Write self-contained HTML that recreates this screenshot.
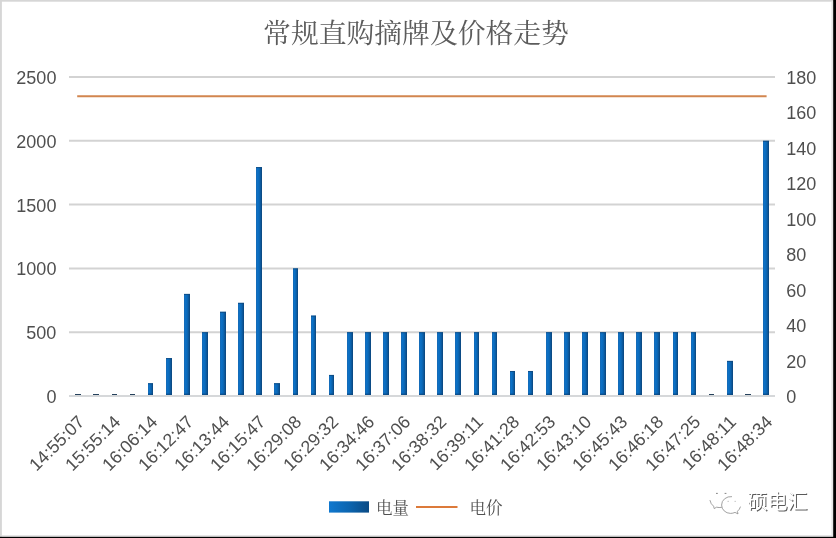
<!DOCTYPE html>
<html lang="zh"><head><meta charset="utf-8"><title>常规直购摘牌及价格走势</title>
<style>html,body{margin:0;padding:0;background:#fff}body{width:836px;height:538px;overflow:hidden;position:relative;font-family:"Liberation Sans",sans-serif}svg{display:block;position:absolute;left:0;top:0}#c{position:absolute;left:0;top:0;width:836px;height:538px;will-change:transform}text{font-family:"Liberation Sans",sans-serif}.xl{position:absolute;white-space:nowrap;line-height:1;transform-origin:100% 100%;transform:rotate(-45deg);font-family:"Liberation Sans",sans-serif;font-size:17.8px;color:#4f4f4f}</style></head><body><div id="c">
<svg width="836" height="538" viewBox="0 0 836 538">
<defs><linearGradient id="bg" x1="0" y1="0" x2="1" y2="0"><stop offset="0" stop-color="#1769b3"/><stop offset="0.3" stop-color="#0b72c8"/><stop offset="0.65" stop-color="#0c62ac"/><stop offset="1" stop-color="#0b447a"/></linearGradient>
<linearGradient id="lg" x1="0" y1="0" x2="1" y2="0"><stop offset="0" stop-color="#0f78cf"/><stop offset="0.5" stop-color="#0c65b0"/><stop offset="1" stop-color="#0a4a84"/></linearGradient></defs>
<rect width="836" height="538" fill="#fff"/>
<rect x="0" y="0" width="836" height="1.7" fill="#d6d6d6"/>
<rect x="0" y="0" width="1.9" height="538" fill="#d6d6d6"/>
<rect x="831.4" y="1.7" width="1.9" height="535" fill="#e6e6e6"/>
<rect x="1.9" y="535" width="831" height="1.8" fill="#e6e6e6"/>
<rect x="833.2" y="0" width="2.8" height="538" fill="#000"/>
<rect x="0" y="536.8" width="836" height="1.2" fill="#000"/>
<g stroke="#d3d3d3" stroke-width="2">
<line x1="69" y1="77" x2="775" y2="77"/>
<line x1="69" y1="140.8" x2="775" y2="140.8"/>
<line x1="69" y1="204.6" x2="775" y2="204.6"/>
<line x1="69" y1="268.4" x2="775" y2="268.4"/>
<line x1="69" y1="332.2" x2="775" y2="332.2"/>
</g>
<g fill="url(#bg)">
<rect x="75" y="394" width="6" height="1.1" fill="#26425c"/>
<rect x="93" y="394" width="6" height="1.1" fill="#26425c"/>
<rect x="112" y="394" width="5" height="1.1" fill="#26425c"/>
<rect x="130" y="394" width="5" height="1.1" fill="#26425c"/>
<rect x="148" y="383.24" width="5" height="12.76"/>
<rect x="148" y="383.24" width="5" height="1" fill="#0f4a80" fill-opacity="0.85"/>
<rect x="148" y="393.6" width="5" height="1.6" fill="#0c467c" fill-opacity="0.7"/>
<rect x="166" y="358.1" width="6" height="37.9"/>
<rect x="166" y="358.1" width="6" height="1" fill="#0f4a80" fill-opacity="0.85"/>
<rect x="166" y="393.6" width="6" height="1.6" fill="#0c467c" fill-opacity="0.7"/>
<rect x="184" y="293.92" width="6" height="102.08"/>
<rect x="184" y="293.92" width="6" height="1" fill="#0f4a80" fill-opacity="0.85"/>
<rect x="184" y="393.6" width="6" height="1.6" fill="#0c467c" fill-opacity="0.7"/>
<rect x="202" y="332.2" width="6" height="63.8"/>
<rect x="202" y="332.2" width="6" height="1" fill="#0f4a80" fill-opacity="0.85"/>
<rect x="202" y="393.6" width="6" height="1.6" fill="#0c467c" fill-opacity="0.7"/>
<rect x="220" y="311.78" width="6" height="84.22"/>
<rect x="220" y="311.78" width="6" height="1" fill="#0f4a80" fill-opacity="0.85"/>
<rect x="220" y="393.6" width="6" height="1.6" fill="#0c467c" fill-opacity="0.7"/>
<rect x="238" y="302.85" width="6" height="93.15"/>
<rect x="238" y="302.85" width="6" height="1" fill="#0f4a80" fill-opacity="0.85"/>
<rect x="238" y="393.6" width="6" height="1.6" fill="#0c467c" fill-opacity="0.7"/>
<rect x="256" y="167.09" width="6" height="228.91"/>
<rect x="256" y="167.09" width="6" height="1" fill="#0f4a80" fill-opacity="0.85"/>
<rect x="256" y="393.6" width="6" height="1.6" fill="#0c467c" fill-opacity="0.7"/>
<rect x="274" y="383.24" width="6" height="12.76"/>
<rect x="274" y="383.24" width="6" height="1" fill="#0f4a80" fill-opacity="0.85"/>
<rect x="274" y="393.6" width="6" height="1.6" fill="#0c467c" fill-opacity="0.7"/>
<rect x="293" y="268.4" width="5" height="127.6"/>
<rect x="293" y="268.4" width="5" height="1" fill="#0f4a80" fill-opacity="0.85"/>
<rect x="293" y="393.6" width="5" height="1.6" fill="#0c467c" fill-opacity="0.7"/>
<rect x="311" y="315.61" width="5" height="80.39"/>
<rect x="311" y="315.61" width="5" height="1" fill="#0f4a80" fill-opacity="0.85"/>
<rect x="311" y="393.6" width="5" height="1.6" fill="#0c467c" fill-opacity="0.7"/>
<rect x="329" y="374.95" width="5" height="21.05"/>
<rect x="329" y="374.95" width="5" height="1" fill="#0f4a80" fill-opacity="0.85"/>
<rect x="329" y="393.6" width="5" height="1.6" fill="#0c467c" fill-opacity="0.7"/>
<rect x="347" y="332.2" width="6" height="63.8"/>
<rect x="347" y="332.2" width="6" height="1" fill="#0f4a80" fill-opacity="0.85"/>
<rect x="347" y="393.6" width="6" height="1.6" fill="#0c467c" fill-opacity="0.7"/>
<rect x="365" y="332.2" width="6" height="63.8"/>
<rect x="365" y="332.2" width="6" height="1" fill="#0f4a80" fill-opacity="0.85"/>
<rect x="365" y="393.6" width="6" height="1.6" fill="#0c467c" fill-opacity="0.7"/>
<rect x="383" y="332.2" width="6" height="63.8"/>
<rect x="383" y="332.2" width="6" height="1" fill="#0f4a80" fill-opacity="0.85"/>
<rect x="383" y="393.6" width="6" height="1.6" fill="#0c467c" fill-opacity="0.7"/>
<rect x="401" y="332.2" width="6" height="63.8"/>
<rect x="401" y="332.2" width="6" height="1" fill="#0f4a80" fill-opacity="0.85"/>
<rect x="401" y="393.6" width="6" height="1.6" fill="#0c467c" fill-opacity="0.7"/>
<rect x="419" y="332.2" width="6" height="63.8"/>
<rect x="419" y="332.2" width="6" height="1" fill="#0f4a80" fill-opacity="0.85"/>
<rect x="419" y="393.6" width="6" height="1.6" fill="#0c467c" fill-opacity="0.7"/>
<rect x="437" y="332.2" width="6" height="63.8"/>
<rect x="437" y="332.2" width="6" height="1" fill="#0f4a80" fill-opacity="0.85"/>
<rect x="437" y="393.6" width="6" height="1.6" fill="#0c467c" fill-opacity="0.7"/>
<rect x="455" y="332.2" width="6" height="63.8"/>
<rect x="455" y="332.2" width="6" height="1" fill="#0f4a80" fill-opacity="0.85"/>
<rect x="455" y="393.6" width="6" height="1.6" fill="#0c467c" fill-opacity="0.7"/>
<rect x="474" y="332.2" width="5" height="63.8"/>
<rect x="474" y="332.2" width="5" height="1" fill="#0f4a80" fill-opacity="0.85"/>
<rect x="474" y="393.6" width="5" height="1.6" fill="#0c467c" fill-opacity="0.7"/>
<rect x="492" y="332.2" width="5" height="63.8"/>
<rect x="492" y="332.2" width="5" height="1" fill="#0f4a80" fill-opacity="0.85"/>
<rect x="492" y="393.6" width="5" height="1.6" fill="#0c467c" fill-opacity="0.7"/>
<rect x="510" y="370.99" width="5" height="25.01"/>
<rect x="510" y="370.99" width="5" height="1" fill="#0f4a80" fill-opacity="0.85"/>
<rect x="510" y="393.6" width="5" height="1.6" fill="#0c467c" fill-opacity="0.7"/>
<rect x="528" y="370.99" width="5" height="25.01"/>
<rect x="528" y="370.99" width="5" height="1" fill="#0f4a80" fill-opacity="0.85"/>
<rect x="528" y="393.6" width="5" height="1.6" fill="#0c467c" fill-opacity="0.7"/>
<rect x="546" y="332.2" width="6" height="63.8"/>
<rect x="546" y="332.2" width="6" height="1" fill="#0f4a80" fill-opacity="0.85"/>
<rect x="546" y="393.6" width="6" height="1.6" fill="#0c467c" fill-opacity="0.7"/>
<rect x="564" y="332.2" width="6" height="63.8"/>
<rect x="564" y="332.2" width="6" height="1" fill="#0f4a80" fill-opacity="0.85"/>
<rect x="564" y="393.6" width="6" height="1.6" fill="#0c467c" fill-opacity="0.7"/>
<rect x="582" y="332.2" width="6" height="63.8"/>
<rect x="582" y="332.2" width="6" height="1" fill="#0f4a80" fill-opacity="0.85"/>
<rect x="582" y="393.6" width="6" height="1.6" fill="#0c467c" fill-opacity="0.7"/>
<rect x="600" y="332.2" width="6" height="63.8"/>
<rect x="600" y="332.2" width="6" height="1" fill="#0f4a80" fill-opacity="0.85"/>
<rect x="600" y="393.6" width="6" height="1.6" fill="#0c467c" fill-opacity="0.7"/>
<rect x="618" y="332.2" width="6" height="63.8"/>
<rect x="618" y="332.2" width="6" height="1" fill="#0f4a80" fill-opacity="0.85"/>
<rect x="618" y="393.6" width="6" height="1.6" fill="#0c467c" fill-opacity="0.7"/>
<rect x="636" y="332.2" width="6" height="63.8"/>
<rect x="636" y="332.2" width="6" height="1" fill="#0f4a80" fill-opacity="0.85"/>
<rect x="636" y="393.6" width="6" height="1.6" fill="#0c467c" fill-opacity="0.7"/>
<rect x="654" y="332.2" width="6" height="63.8"/>
<rect x="654" y="332.2" width="6" height="1" fill="#0f4a80" fill-opacity="0.85"/>
<rect x="654" y="393.6" width="6" height="1.6" fill="#0c467c" fill-opacity="0.7"/>
<rect x="673" y="332.2" width="5" height="63.8"/>
<rect x="673" y="332.2" width="5" height="1" fill="#0f4a80" fill-opacity="0.85"/>
<rect x="673" y="393.6" width="5" height="1.6" fill="#0c467c" fill-opacity="0.7"/>
<rect x="691" y="332.2" width="5" height="63.8"/>
<rect x="691" y="332.2" width="5" height="1" fill="#0f4a80" fill-opacity="0.85"/>
<rect x="691" y="393.6" width="5" height="1.6" fill="#0c467c" fill-opacity="0.7"/>
<rect x="709" y="394" width="5" height="1.1" fill="#26425c"/>
<rect x="727" y="360.91" width="6" height="35.09"/>
<rect x="727" y="360.91" width="6" height="1" fill="#0f4a80" fill-opacity="0.85"/>
<rect x="727" y="393.6" width="6" height="1.6" fill="#0c467c" fill-opacity="0.7"/>
<rect x="745" y="394" width="6" height="1.1" fill="#26425c"/>
<rect x="763" y="140.8" width="6" height="255.2"/>
<rect x="763" y="140.8" width="6" height="1" fill="#0f4a80" fill-opacity="0.85"/>
<rect x="763" y="393.6" width="6" height="1.6" fill="#0c467c" fill-opacity="0.7"/>
</g>
<line x1="69" y1="396" x2="775" y2="396" stroke="#d6d8da" stroke-width="2"/>
<line x1="77.2" y1="96.2" x2="766.6" y2="96.2" stroke="#d2864f" stroke-width="1.9"/>
<g fill="#4f4f4f" font-size="18">
<text x="56.4" y="84" text-anchor="end">2500</text>
<text x="56.4" y="147.8" text-anchor="end">2000</text>
<text x="56.4" y="211.6" text-anchor="end">1500</text>
<text x="56.4" y="275.4" text-anchor="end">1000</text>
<text x="56.4" y="339.2" text-anchor="end">500</text>
<text x="56.4" y="403" text-anchor="end">0</text>
<text x="786.3" y="84">180</text>
<text x="786.3" y="119.44">160</text>
<text x="786.3" y="154.89">140</text>
<text x="786.3" y="190.33">120</text>
<text x="786.3" y="225.78">100</text>
<text x="786.3" y="261.22">80</text>
<text x="786.3" y="296.67">60</text>
<text x="786.3" y="332.11">40</text>
<text x="786.3" y="367.56">20</text>
<text x="786.3" y="403">0</text>
</g>
<text x="416" y="42.5" text-anchor="middle" font-size="27.8" fill="#5c5c5c" style="font-family:'Liberation Serif','Noto Serif CJK SC',serif">常规直购摘牌及价格走势</text>
<rect x="329" y="501.3" width="40" height="11.3" fill="url(#lg)"/>
<text x="376" y="513.6" font-size="16.5" fill="#505050" style="font-family:'Liberation Serif','Noto Serif CJK SC',serif">电量</text>
<line x1="416" y1="507" x2="457.5" y2="507" stroke="#dc7a3a" stroke-width="2"/>
<text x="469.5" y="514.4" font-size="16.5" fill="#505050" style="font-family:'Liberation Serif','Noto Serif CJK SC',serif">电价</text>
<text x="748.4" y="509.9" font-size="20" fill="#5a5a5a" style="font-family:'Liberation Sans','Noto Sans CJK SC',sans-serif">硕电汇</text>
<text x="747.5" y="509" font-size="20" fill="#fff" style="font-family:'Liberation Sans','Noto Sans CJK SC',sans-serif">硕电汇</text>
<g fill="none" stroke="#8a8a8a" stroke-width="0.8" stroke-linecap="round">
<path d="M731.6 496.6 A9 8.4 0 0 0 721.6 505 A9 8.4 0 0 0 730.5 513.4 A10 9 0 0 0 735 512.4 L738 513.9 L737.4 511.3 A8.6 8.4 0 0 0 740.4 507"/>
<path d="M710 500.5 Q710.8 504.3 713.6 506.2 L714.2 508.6 L716.6 507.2 Q719 507.8 721.4 507.4"/>
</g>
<g fill="#777"><rect x="716" y="492.9" width="1.8" height="0.9"/><rect x="724.6" y="492.9" width="1.8" height="0.9"/><rect x="727.5" y="500.9" width="1.4" height="0.7" fill="#aaa"/><rect x="734.5" y="500.9" width="1.4" height="0.7" fill="#aaa"/></g>
</svg>
<div class="xl" style="right:747.65px;top:407.8px">14:55:07</div>
<div class="xl" style="right:711.44px;top:407.8px">15:55:14</div>
<div class="xl" style="right:675.23px;top:407.8px">16:06:14</div>
<div class="xl" style="right:639.03px;top:407.8px">16:12:47</div>
<div class="xl" style="right:602.82px;top:407.8px">16:13:44</div>
<div class="xl" style="right:566.61px;top:407.8px">16:15:47</div>
<div class="xl" style="right:530.4px;top:407.8px">16:29:08</div>
<div class="xl" style="right:494.19px;top:407.8px">16:29:32</div>
<div class="xl" style="right:457.99px;top:407.8px">16:34:46</div>
<div class="xl" style="right:421.78px;top:407.8px">16:37:06</div>
<div class="xl" style="right:385.57px;top:407.8px">16:38:32</div>
<div class="xl" style="right:349.36px;top:407.8px">16:39:11</div>
<div class="xl" style="right:313.15px;top:407.8px">16:41:28</div>
<div class="xl" style="right:276.95px;top:407.8px">16:42:53</div>
<div class="xl" style="right:240.74px;top:407.8px">16:43:10</div>
<div class="xl" style="right:204.53px;top:407.8px">16:45:43</div>
<div class="xl" style="right:168.32px;top:407.8px">16:46:18</div>
<div class="xl" style="right:132.11px;top:407.8px">16:47:25</div>
<div class="xl" style="right:95.91px;top:407.8px">16:48:11</div>
<div class="xl" style="right:59.7px;top:407.8px">16:48:34</div>
</div></body></html>
